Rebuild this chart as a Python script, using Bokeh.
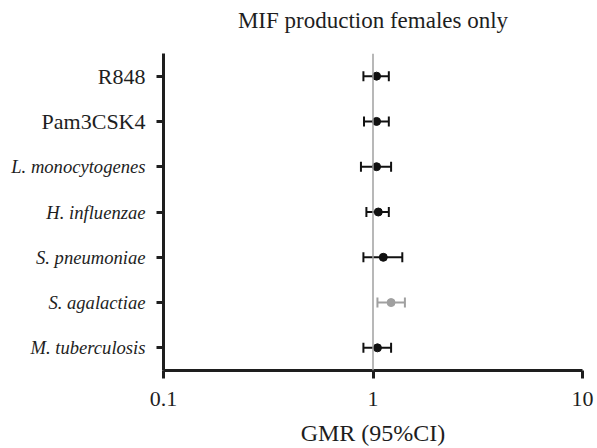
from bokeh.plotting import figure
from bokeh.layouts import row, column
from bokeh.models import (Range1d, FixedTicker, CustomJSTickFormatter, Span,
                          ColumnDataSource)
from bokeh.core.properties import value
from bokeh.embed import file_html
from bokeh.resources import INLINE

# ---- data ----
categories = ["R848", "Pam3CSK4", "L. monocytogenes", "H. influenzae",
              "S. pneumoniae", "S. agalactiae", "M. tuberculosis"]
gmr = [1.04, 1.04, 1.04, 1.06, 1.12, 1.22, 1.05]
ci_low = [0.90, 0.906, 0.876, 0.93, 0.90, 1.05, 0.90]
ci_high = [1.19, 1.19, 1.22, 1.19, 1.38, 1.42, 1.22]
x_ticks = [0.1, 1, 10]
title_text = "MIF production females only"
x_label = "GMR (95%CI)"

FONT = "Liberation Serif"
DARK = "#1e1e1e"

n = len(categories)
ypos = [n - 1 - i for i in range(n)]
colors = ["#a0a0a0" if (lo > 1 or hi < 1) else "#111111"
          for lo, hi in zip(ci_low, ci_high)]
italic = [". " in c for c in categories]

src = ColumnDataSource(dict(y=ypos, gmr=gmr, lo=ci_low, hi=ci_high, color=colors))
lab_src = ColumnDataSource(dict(
    y=ypos, text=categories,
    style=["italic" if it else "normal" for it in italic],
    size=["18.6px" if it else "22px" for it in italic]))

W, H = 597, 448
TITLE_H = 40
FRAME_LEFT, RIGHT = 163, 15
TOP, BOTTOM = 13, 78
LEFT_BORDER = 14
yr = Range1d(-0.5, n - 0.5)

# ---- title strip ----
tf = figure(width=W, height=TITLE_H, x_range=Range1d(0, W), y_range=Range1d(0, TITLE_H),
            output_backend="svg", toolbar_location=None,
            x_axis_location=None, y_axis_location=None,
            min_border=0)
tf.outline_line_color = None
tf.xgrid.visible = False
tf.ygrid.visible = False
tf.text(x=[FRAME_LEFT + (W - RIGHT - FRAME_LEFT) / 2], y=[TITLE_H / 2], text=[title_text],
        text_align="center", text_baseline="middle",
        text_font=value(FONT), text_font_size="23px", text_color=DARK)

# ---- left panel with category labels ----
LW = FRAME_LEFT - LEFT_BORDER
PH = H - TITLE_H
pl = figure(width=LW, height=PH, x_range=Range1d(0, LW), y_range=yr,
            output_backend="svg", toolbar_location=None,
            x_axis_location=None, y_axis_location=None,
            min_border_left=0, min_border_right=0,
            min_border_top=TOP, min_border_bottom=BOTTOM)
pl.outline_line_color = None
pl.xgrid.visible = False
pl.ygrid.visible = False
pl.text(x=LW - 4, y="y", text="text", source=lab_src,
        text_align="right", text_baseline="middle",
        text_font=value(FONT), text_font_size="size",
        text_font_style="style", text_color=DARK)

# ---- main forest plot ----
p = figure(width=W - LW, height=PH, x_axis_type="log",
           x_range=Range1d(0.1, 10), y_range=yr,
           output_backend="svg", toolbar_location=None,
           min_border_left=LEFT_BORDER, min_border_right=RIGHT,
           min_border_top=TOP, min_border_bottom=BOTTOM)
p.outline_line_color = None
p.xgrid.visible = False
p.ygrid.visible = False

xa = p.xaxis[0]
xa.ticker = FixedTicker(ticks=x_ticks, minor_ticks=[])
xa.formatter = CustomJSTickFormatter(code="return tick.toString();")
xa.axis_line_width = 3
xa.axis_line_color = DARK
xa.major_tick_line_width = 3
xa.major_tick_line_color = DARK
xa.major_tick_out = 8
xa.major_tick_in = 0
xa.minor_tick_line_color = None
xa.major_label_text_font = FONT
xa.major_label_text_font_size = "22px"
xa.major_label_text_color = DARK
xa.major_label_standoff = 13
xa.axis_label = x_label
xa.axis_label_text_font = FONT
xa.axis_label_text_font_size = "24px"
xa.axis_label_text_font_style = "normal"
xa.axis_label_text_color = DARK
xa.axis_label_standoff = 11

ya = p.yaxis[0]
ya.ticker = FixedTicker(ticks=ypos, minor_ticks=[])
ya.major_label_overrides = {y: "" for y in ypos}
ya.major_label_standoff = 0
ya.axis_line_width = 3
ya.axis_line_color = DARK
ya.major_tick_line_width = 3
ya.major_tick_line_color = DARK
ya.major_tick_out = 7
ya.major_tick_in = 0
ya.minor_tick_line_color = None

p.add_layout(Span(location=1, dimension="height", line_color="#a0a0a0", line_width=1.5))

p.segment(x0="lo", y0="y", x1="hi", y1="y", source=src, line_color="color", line_width=2)
p.scatter(x="lo", y="y", source=src, marker="dash", angle=1.5708, size=10,
          line_color="color", line_width=2)
p.scatter(x="hi", y="y", source=src, marker="dash", angle=1.5708, size=10,
          line_color="color", line_width=2)
p.scatter(x="gmr", y="y", source=src, marker="circle", size=8,
          fill_color="color", line_color="color")

layout = column(tf, row(pl, p, spacing=0), spacing=0)
open("out.html", "w").write(file_html(layout, INLINE))
